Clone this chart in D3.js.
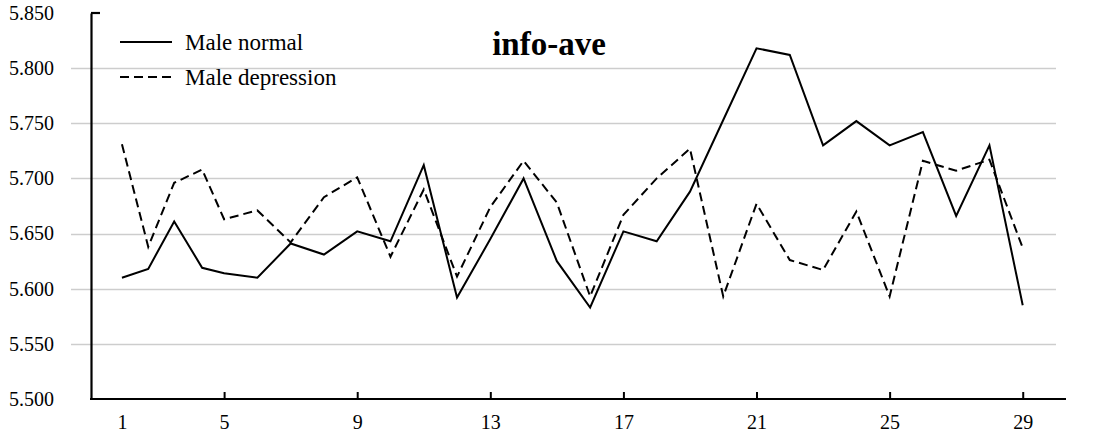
<!DOCTYPE html>
<html>
<head>
<meta charset="utf-8">
<script src="https://cdn.jsdelivr.net/npm/d3@7"></script>
<style>
  html, body { margin: 0; padding: 0; background: #fff; }
  svg { display: block; }
</style>
</head>
<body>
<svg id="chart" width="1093" height="432"></svg>
<script>
// Horizontal position of each session on the x scale (sessions 1-29)
const sessionX = [1.93, 2.72, 3.50, 4.34, 5, 6, 7, 8, 9, 10, 11, 12, 13, 14, 15,
                  16, 17, 18, 19, 20, 21, 22, 23, 24, 25, 26, 27, 28, 29];

const maleNormal = [5.610, 5.618, 5.661, 5.619, 5.614, 5.610, 5.641, 5.631, 5.652, 5.643,
                    5.712, 5.592, 5.645, 5.700, 5.625, 5.583, 5.652, 5.643, 5.688, 5.753,
                    5.818, 5.812, 5.730, 5.752, 5.730, 5.742, 5.666, 5.730, 5.585];

const maleDepression = [5.731, 5.638, 5.696, 5.708, 5.663, 5.671, 5.642, 5.683, 5.701, 5.629,
                        5.690, 5.611, 5.674, 5.716, 5.678, 5.593, 5.667, 5.700, 5.727, 5.593,
                        5.677, 5.626, 5.617, 5.670, 5.593, 5.716, 5.707, 5.717, 5.637];

const seriesNames = ["Male normal", "Male depression"];
const xTickLabels = ["1", "5", "9", "13", "17", "21", "25", "29"];
const yTicks = [5.500, 5.550, 5.600, 5.650, 5.700, 5.750, 5.800, 5.850];
const chartTitle = "info-ave";

const SERIF = "'Liberation Serif', 'Times New Roman', 'DejaVu Serif', serif";

const svg = d3.select("#chart");
const plotLeft = 91, plotRight = 1056, plotTop = 13, plotBottom = 399;

const x = d3.scaleLinear().domain([1, 30]).range([plotLeft, plotRight]);
const y = d3.scaleLinear().domain([5.5, 5.85]).range([plotBottom, plotTop]);

// Horizontal gridlines (they poke out to the left of the axis)
svg.append("g")
  .selectAll("line")
  .data(yTicks.filter(v => v > 5.5 && v < 5.85))
  .join("line")
  .attr("x1", plotLeft - 20).attr("x2", plotRight)
  .attr("y1", d => Math.round(y(d)) + 0.5).attr("y2", d => Math.round(y(d)) + 0.5)
  .attr("stroke", "#cdcdcd").attr("stroke-width", 1.3);

// Y axis
const yAxis = d3.axisLeft(y).tickValues(yTicks).tickFormat(d3.format(".3f")).tickSize(0).tickPadding(37);
const gy = svg.append("g").attr("transform", `translate(${plotLeft},0)`).call(yAxis);
gy.attr("font-family", null).attr("font-size", null);
gy.select(".domain").attr("stroke", "#000").attr("stroke-width", 2.2);
gy.selectAll("text").style("font-family", SERIF).style("font-size", "20px").attr("fill", "#000");
// small inward tick at the top of the axis
svg.append("line")
  .attr("x1", plotLeft).attr("x2", plotLeft + 9)
  .attr("y1", y(5.85)).attr("y2", y(5.85))
  .attr("stroke", "#000").attr("stroke-width", 2.2);

// X axis
const xTickVals = xTickLabels.map(l => sessionX[+l - 1]);
const xAxis = d3.axisBottom(x).tickValues(xTickVals)
  .tickFormat((d, i) => xTickLabels[i]).tickSizeInner(-7).tickSizeOuter(0).tickPadding(16);
const gx = svg.append("g").attr("transform", `translate(0,${plotBottom})`).call(xAxis);
gx.attr("font-family", null).attr("font-size", null);
gx.select(".domain").attr("d", `M${plotLeft - 1},0H1066`).attr("stroke", "#000").attr("stroke-width", 2.2);
gx.selectAll(".tick line").attr("stroke", "#000").attr("stroke-width", 2)
  .attr("display", (d, i) => i === 0 ? "none" : null);
gx.selectAll("text").style("font-family", SERIF).style("font-size", "20px").attr("fill", "#000");

// Series lines
const line = d3.line().x((d, i) => x(sessionX[i])).y(d => y(d));
const series = [
  { name: seriesNames[0], values: maleNormal, dash: null },
  { name: seriesNames[1], values: maleDepression, dash: "9,5" }
];
svg.append("g").selectAll("path")
  .data(series)
  .join("path")
  .attr("d", d => line(d.values))
  .attr("fill", "none")
  .attr("stroke", "#000")
  .attr("stroke-width", 2)
  .attr("stroke-linejoin", "miter")
  .attr("stroke-dasharray", d => d.dash);

// Legend
const lg = svg.append("g").attr("transform", "translate(120,42)");
const item = lg.selectAll("g").data(series).join("g")
  .attr("transform", (d, i) => `translate(0,${i * 35})`);
item.append("line")
  .attr("x1", 0).attr("x2", 52).attr("y1", 0).attr("y2", 0)
  .attr("stroke", "#000").attr("stroke-width", 2)
  .attr("stroke-dasharray", d => d.dash);
item.append("text")
  .attr("x", 65).attr("y", 0).attr("dy", "0.33em")
  .style("font-family", SERIF).style("font-size", "23px")
  .text(d => d.name);

// Title
svg.append("text")
  .attr("x", 549).attr("y", 55)
  .attr("text-anchor", "middle")
  .style("font-family", SERIF).style("font-size", "33px").style("font-weight", "bold")
  .text(chartTitle);
</script>
</body>
</html>
